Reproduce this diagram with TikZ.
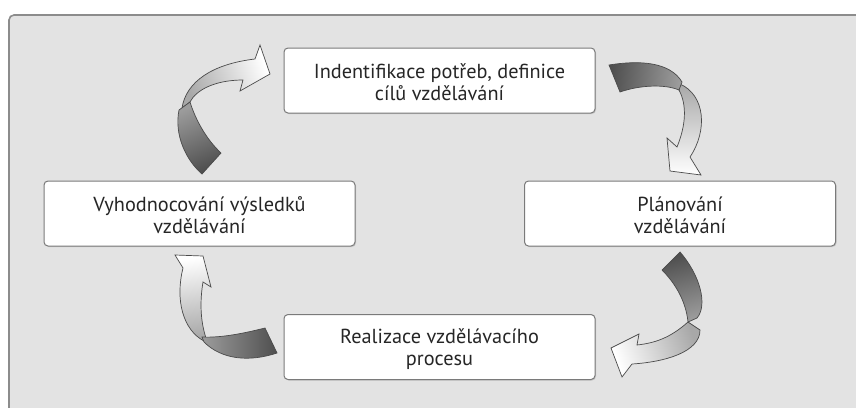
\documentclass[tikz,border=0pt]{standalone}
\usepackage{fontspec}
\setmainfont{PT Sans}
\usetikzlibrary{shadows}
\definecolor{framefill}{HTML}{E3E3E3}
\definecolor{frameline}{HTML}{8C8C8C}
\definecolor{boxline}{HTML}{7A7A7A}
\definecolor{txt}{HTML}{262626}
\definecolor{ribline}{HTML}{4A4A4A}
\definecolor{darkend}{HTML}{4F4F4F}
\definecolor{darkmid}{HTML}{9C9C9C}
\definecolor{lightmid}{HTML}{A8A8A8}
\tikzset{
  box/.style={draw=boxline, line width=1pt, fill=white, rounded corners=4pt,
    minimum width=311pt, minimum height=65pt,
    drop shadow={shadow xshift=1pt, shadow yshift=-1pt, fill=black!30, opacity=0.6}},
  boxtext/.style={align=center, text=txt, font=\fontsize{20.3}{22}\selectfont, inner sep=0pt},
  darkpart/.style={draw=ribline, line width=0.7pt, top color=darkmid, bottom color=darkend},
  lightpart/.style={draw=ribline, line width=0.7pt, top color=white, bottom color=lightmid},
}
\begin{document}
\begin{tikzpicture}[x=1pt,y=-1pt]
\useasboundingbox (0,0) rectangle (856,407);
\fill[white] (0,0) rectangle (856,407);
\begin{scope}
\clip (0,0) rectangle (856,407);
\draw[frameline, line width=1.6pt, fill=framefill, rounded corners=5pt] (9,15) rectangle (880,440);
\end{scope}

% boxes
\node[box] (ident) at (439.5,80.5) {};
\node[box] (plan) at (680,213.5) {};
\node[box] (vyhod) at (199.5,213.5) {};
\node[box] (real) at (439.5,347) {};
\node[boxtext] (identt) at ([yshift=-2pt]ident.center) {Indentifikace potřeb, definice\\cílů vzdělávání};
\node[boxtext] (plant) at ([yshift=-2pt]plan.center) {Plánování\\vzdělávání};
\node[boxtext] (vyhodt) at ([yshift=-2pt]vyhod.center) {Vyhodnocování výsledků\\vzdělávání};
\node[boxtext] (realt) at ([yshift=-2pt]real.center) {Realizace vzdělávacího\\procesu};

% top-left ribbon arrow (vyhod -> ident)
\shadedraw[lightpart, shading angle=-69] (182,108) .. controls (186,82) and (212,64) .. (255,59) -- (260,45) -- (270,74) -- (240,91) -- (243,80) .. controls (215,80) and (196,90) .. (190,102) -- cycle;
\shadedraw[darkpart, shading angle=24] (202,174) .. controls (186,160) and (174,135) .. (179,110) -- (190,102) .. controls (195,118) and (205,138) .. (221,153) -- cycle;

% top-right ribbon arrow (ident -> plan)
\shadedraw[lightpart, shading angle=180] (680,84) .. controls (705,95) and (708,130) .. (690,157) -- (701,175) -- (670,171) -- (667,138) -- (677,147) .. controls (686,125) and (687,105) .. (679,90) -- cycle;
\shadedraw[darkpart, shading angle=-97] (609,65) .. controls (640,60) and (670,62) .. (682,82) -- (679,90) .. controls (665,84) and (640,85) .. (620,92) -- cycle;

% bottom-right ribbon arrow (plan -> real)
\shadedraw[lightpart, shading angle=110] (688,322) .. controls (670,338) and (655,343) .. (637,345) -- (639,334) -- (611,348) -- (622,377) -- (632,364) .. controls (665,362) and (700,352) .. (700,330) -- cycle;
\shadedraw[darkpart, shading angle=-164] (680,252) .. controls (700,275) and (708,305) .. (697,318) -- (688,322) .. controls (686,302) and (676,284) .. (662,270) -- cycle;

% bottom-left ribbon arrow (real -> vyhod)
\shadedraw[lightpart, shading angle=9] (204,341) .. controls (183,330) and (175,300) .. (183,268) -- (175,255) -- (203,256) -- (211,287) -- (203,282) .. controls (200,300) and (200,320) .. (206,338) -- cycle;
\shadedraw[darkpart, shading angle=90] (265,328) .. controls (245,333) and (222,338) .. (202,337) -- (204,342) .. controls (222,360) and (250,362) .. (277,353) -- cycle;
\end{tikzpicture}
\end{document}
